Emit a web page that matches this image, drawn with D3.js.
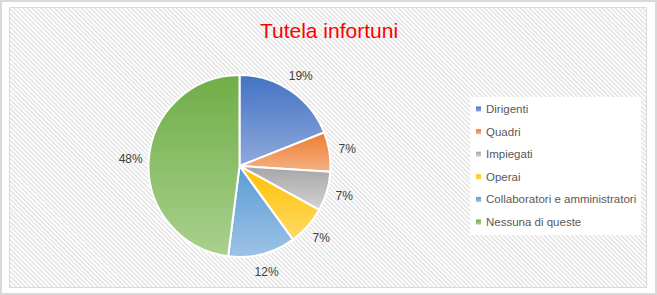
<!DOCTYPE html>
<html>
<head>
<meta charset="utf-8">
<script src="https://cdn.jsdelivr.net/npm/d3@7"></script>
<style>
  html, body { margin: 0; padding: 0; background: #fff; }
  svg { display: block; }
</style>
</head>
<body>
<svg id="chart" width="657" height="295"></svg>
<script>
// Categories and their shares (percent)
const categories = ["Dirigenti", "Quadri", "Impiegati", "Operai", "Collaboratori e amministratori", "Nessuna di queste"];
const values = [19, 7, 7, 7, 12, 48];
const labels = ["19%", "7%", "7%", "7%", "12%", "48%"];
// Gradient stops per slice: [top colour, bottom colour]
const topColors = ["#4472C4", "#ED7D31", "#A5A5A5", "#FFC000", "#5B9BD5", "#70AD47"];
const bottomColors = ["#8FAADC", "#F4B183", "#D3D3D3", "#FFD966", "#9DC3E6", "#A9D18E"];
const title = "Tutela infortuni";

const W = 657, H = 295;
const svg = d3.select("#chart");
const defs = svg.append("defs");

// diagonal hatch used for the plot backdrop
const hatch = defs.append("pattern")
  .attr("id", "hatch")
  .attr("patternUnits", "userSpaceOnUse")
  .attr("width", 3.2).attr("height", 3.2)
  .attr("patternTransform", "rotate(-45)");
hatch.append("rect").attr("width", 3.2).attr("height", 3.2).attr("fill", "#ffffff");
hatch.append("rect").attr("width", 1.4).attr("height", 3.2).attr("fill", "#e2e2e2");

// outer frame
svg.append("rect")
  .attr("x", 1).attr("y", 1).attr("width", W - 2).attr("height", H - 2)
  .attr("fill", "#ffffff").attr("stroke", "#d9d9d9").attr("stroke-width", 2);

// chart area
svg.append("rect")
  .attr("x", 9.5).attr("y", 7.5).attr("width", 637).attr("height", 280)
  .attr("fill", "url(#hatch)").attr("stroke", "#d9d9d9").attr("stroke-width", 1);

// title
svg.append("text")
  .attr("x", 329).attr("y", 38)
  .attr("text-anchor", "middle")
  .attr("font-family", "'Liberation Sans Narrow', 'Liberation Sans', sans-serif")
  .attr("font-size", 21)
  .attr("fill", "#FF0000")
  .text(title);

// per-slice vertical gradients
categories.forEach((c, i) => {
  const g = defs.append("linearGradient")
    .attr("id", "grad" + i)
    .attr("x1", 0).attr("y1", 0).attr("x2", 0).attr("y2", 1);
  g.append("stop").attr("offset", "0%").attr("stop-color", topColors[i]);
  g.append("stop").attr("offset", "100%").attr("stop-color", bottomColors[i]);
});

const cx = 239.5, cy = 166, r = 91;
const data = categories.map((c, i) => ({ name: c, value: values[i], label: labels[i], i }));
const pie = d3.pie().value(d => d.value).sort(null);
const arcs = pie(data);
const arc = d3.arc().innerRadius(0).outerRadius(r);
const labelArc = d3.arc().innerRadius(r + 18).outerRadius(r + 18);

const g = svg.append("g").attr("transform", `translate(${cx},${cy})`);
g.selectAll("path.slice")
  .data(arcs)
  .join("path")
  .attr("class", "slice")
  .attr("d", arc)
  .attr("fill", d => `url(#grad${d.data.i})`)
  .attr("stroke", "#ffffff")
  .attr("stroke-width", 2)
  .attr("stroke-linejoin", "round");

g.selectAll("text.pct")
  .data(arcs)
  .join("text")
  .attr("class", "pct")
  .attr("transform", d => `translate(${labelArc.centroid(d)})`)
  .attr("text-anchor", "middle")
  .attr("dominant-baseline", "central")
  .attr("font-family", "'Liberation Sans Narrow', 'Liberation Sans', sans-serif")
  .attr("font-size", 12)
  .attr("fill", "#404040")
  .text(d => d.data.label);

// legend
const lg = svg.append("g");
lg.append("rect")
  .attr("x", 470).attr("y", 97).attr("width", 171).attr("height", 138)
  .attr("fill", "#ffffff");
const step = 22.6;
const items = lg.selectAll("g.item")
  .data(data)
  .join("g")
  .attr("class", "item")
  .attr("transform", (d, i) => `translate(476, ${109 + i * step})`);
items.append("rect")
  .attr("x", 0).attr("y", -2.5).attr("width", 5).attr("height", 5)
  .attr("fill", d => `url(#grad${d.i})`);
items.append("text")
  .attr("x", 10).attr("y", 0)
  .attr("dominant-baseline", "central")
  .attr("font-family", "'Liberation Sans Narrow', 'Liberation Sans', sans-serif")
  .attr("font-size", 11.5)
  .attr("fill", "#595959")
  .text(d => d.name);
</script>
</body>
</html>
